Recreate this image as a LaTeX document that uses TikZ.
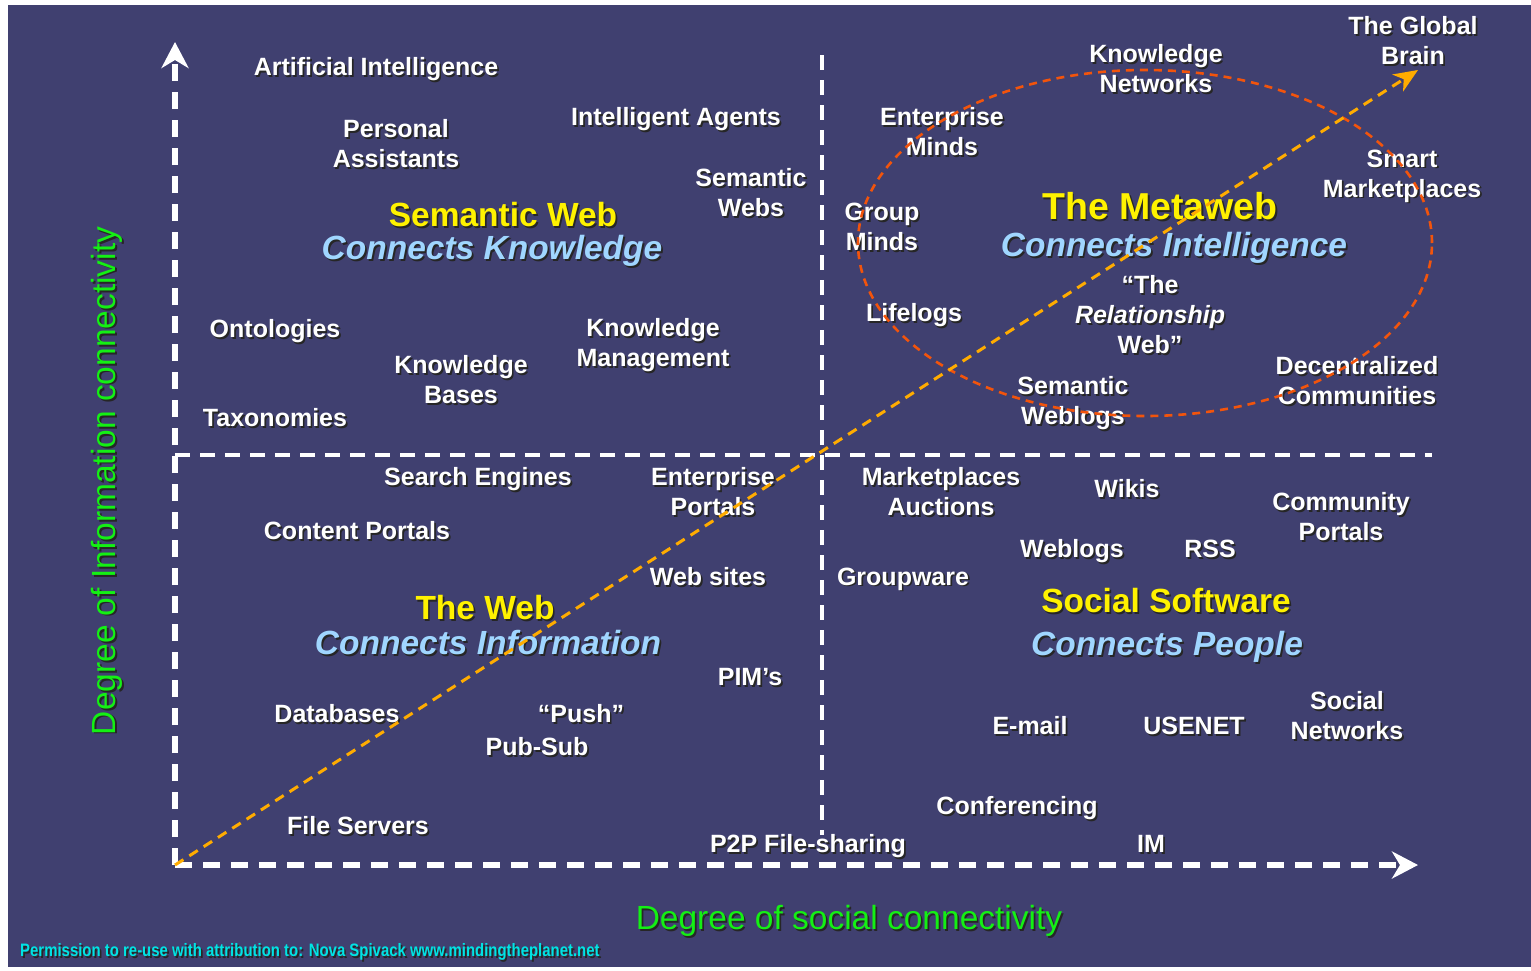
\documentclass[tikz,border=0pt]{standalone}
\usepackage{fontspec}
\setmainfont{Liberation Sans}
\usetikzlibrary{calc, arrows.meta, positioning}

\definecolor{nightsky}{RGB}{64,64,112}
\definecolor{metayellow}{RGB}{255,242,0}
\definecolor{skyblue}{RGB}{160,214,255}
\definecolor{axisgreen}{RGB}{20,240,20}
\definecolor{linkorange}{RGB}{255,172,0}
\definecolor{ringred}{RGB}{242,84,12}
\definecolor{notecyan}{RGB}{0,228,228}

% text with a dark drop shadow
\newcommand{\place}[4][lbl]{%
  \node[xshift=1.7pt, yshift=-1.7pt, #1, text=black!85] at (#3) {#4};
  \node[#1] (#2) at (#3) {#4};}

\tikzset{
  lbl/.style={text=white, align=center, inner sep=0pt, font=\bfseries\fontsize{25}{30}\selectfont},
  head/.style={lbl, text=metayellow, font=\bfseries\fontsize{33.5}{38}\selectfont},
  bighead/.style={head, font=\bfseries\fontsize{37.5}{42}\selectfont},
  conn/.style={lbl, text=skyblue, font=\bfseries\itshape\fontsize{33.5}{38}\selectfont},
  axislbl/.style={lbl, text=axisgreen, font=\fontsize{33.5}{38}\selectfont},
  note/.style={lbl, text=notecyan, anchor=west, font=\bfseries\fontsize{18}{20}\selectfont},
  axis/.style={white, line width=5.5pt, dash pattern=on 17pt off 11pt, -{Stealth[length=26pt, width=27pt, inset=8pt]}},
  divider/.style={white, line width=3.5pt, dash pattern=on 15pt off 10pt},
  link/.style={linkorange, line width=3pt, dash pattern=on 10pt off 7pt, -{Stealth[length=24pt, width=20pt, inset=7pt]}},
  ring/.style={ringred, line width=2.6pt, dash pattern=on 8pt off 6pt}
}

\begin{document}
\begin{tikzpicture}[line cap=butt, line join=round, x=1pt, y=-1pt]
\fill[white] (0,0) rectangle (1531,970);
\useasboundingbox (0,0) rectangle (1531,970);
\fill[nightsky] (8,5) rectangle (1531,967);

\coordinate (O) at (175,865);
\coordinate (ytop) at (175,42);
\coordinate (xend) at (1418,865);
\coordinate (vtop) at (822,55);
\coordinate (vbot) at (822,835);
\coordinate (hleft) at (175,455);
\coordinate (hright) at (1432,455);
\coordinate (globe) at (1418,70);

% quadrants and axes
\draw[divider] (vtop) -- (vbot);
\draw[divider] (hleft) -- (hright);
\draw[axis] (O) -- (ytop);
\draw[axis] (O) -- (xend);

% upper left
\place{ai}{376,69}{Artificial Intelligence}
\place{pa}{396,144}{Personal\\Assistants}
\place{agents}{676,119}{Intelligent Agents}
\place{swebs}{751,193}{Semantic\\Webs}
\place[head]{swhead}{503,215}{Semantic Web}
\place[conn]{swconn}{492,251}{Connects Knowledge}
\place{onto}{275,331}{Ontologies}
\place{km}{653,345}{Knowledge\\Management}
\place{kb}{461,380}{Knowledge\\Bases}
\place{taxo}{275,418}{Taxonomies}

% upper right
\place{kn}{1156,69}{Knowledge\\Networks}
\place{gb}{1413,41}{The Global\\Brain}
\place{em}{942,132}{Enterprise\\Minds}
\place{smart}{1402,176}{Smart\\Marketplaces}
\place{gm}{882,227}{Group\\Minds}
\place[bighead]{mwhead}{1160,206}{The Metaweb}
\place[conn]{mwconn}{1174,248}{Connects Intelligence}
\place{life}{914,315}{Lifelogs}
\place{rel}{1150,315}{“The\\\textit{Relationship}\\Web”}
\place{dc}{1357,381}{Decentralized\\Communities}
\place{sweb}{1073,403}{Semantic\\Weblogs}

% lower left
\place{se}{478,479}{Search Engines}
\place{ep}{713,492}{Enterprise\\Portals}
\place{cp}{357,531}{Content Portals}
\place{sites}{708,577}{Web sites}
\place[head]{wbhead}{485,608}{The Web}
\place[conn]{wbconn}{488,643}{Connects Information}
\place{pim}{750,677}{PIM’s}
\place{db}{337,714}{Databases}
\place{push}{581,714}{“Push”}
\place{pubsub}{537,747}{Pub-Sub}
\place{fs}{358,826}{File Servers}
\place{p2p}{808,846}{P2P File-sharing}

% lower right
\place{ma}{941,492}{Marketplaces\\Auctions}
\place{wikis}{1127,489}{Wikis}
\place{comm}{1341,517}{Community\\Portals}
\place{blogs}{1072,551}{Weblogs}
\place{rss}{1210,549}{RSS}
\place{gw}{903,579}{Groupware}
\place[head]{sshead}{1166,601}{Social Software}
\place[conn]{ssconn}{1167,647}{Connects People}
\place{sn}{1347,716}{Social\\Networks}
\place{mail}{1030,726}{E-mail}
\place{usenet}{1194,726}{USENET}
\place{conf}{1017,808}{Conferencing}
\place{im}{1151,844}{IM}

% axis names
\place[axislbl]{xname}{849,921}{Degree of social connectivity}
\place[axislbl, rotate=90]{yname}{107,481}{Degree of Information connectivity}
\place[note]{permit}{20,952}{\scalebox{0.83}[1]{Permission to re-use with attribution to: Nova Spivack www.mindingtheplanet.net}}

% metaweb ring and growth arrow
\draw[ring] (1145,243) ellipse [x radius=287pt, y radius=173pt];
\draw[link] (O) -- (globe);
\end{tikzpicture}
\end{document}
